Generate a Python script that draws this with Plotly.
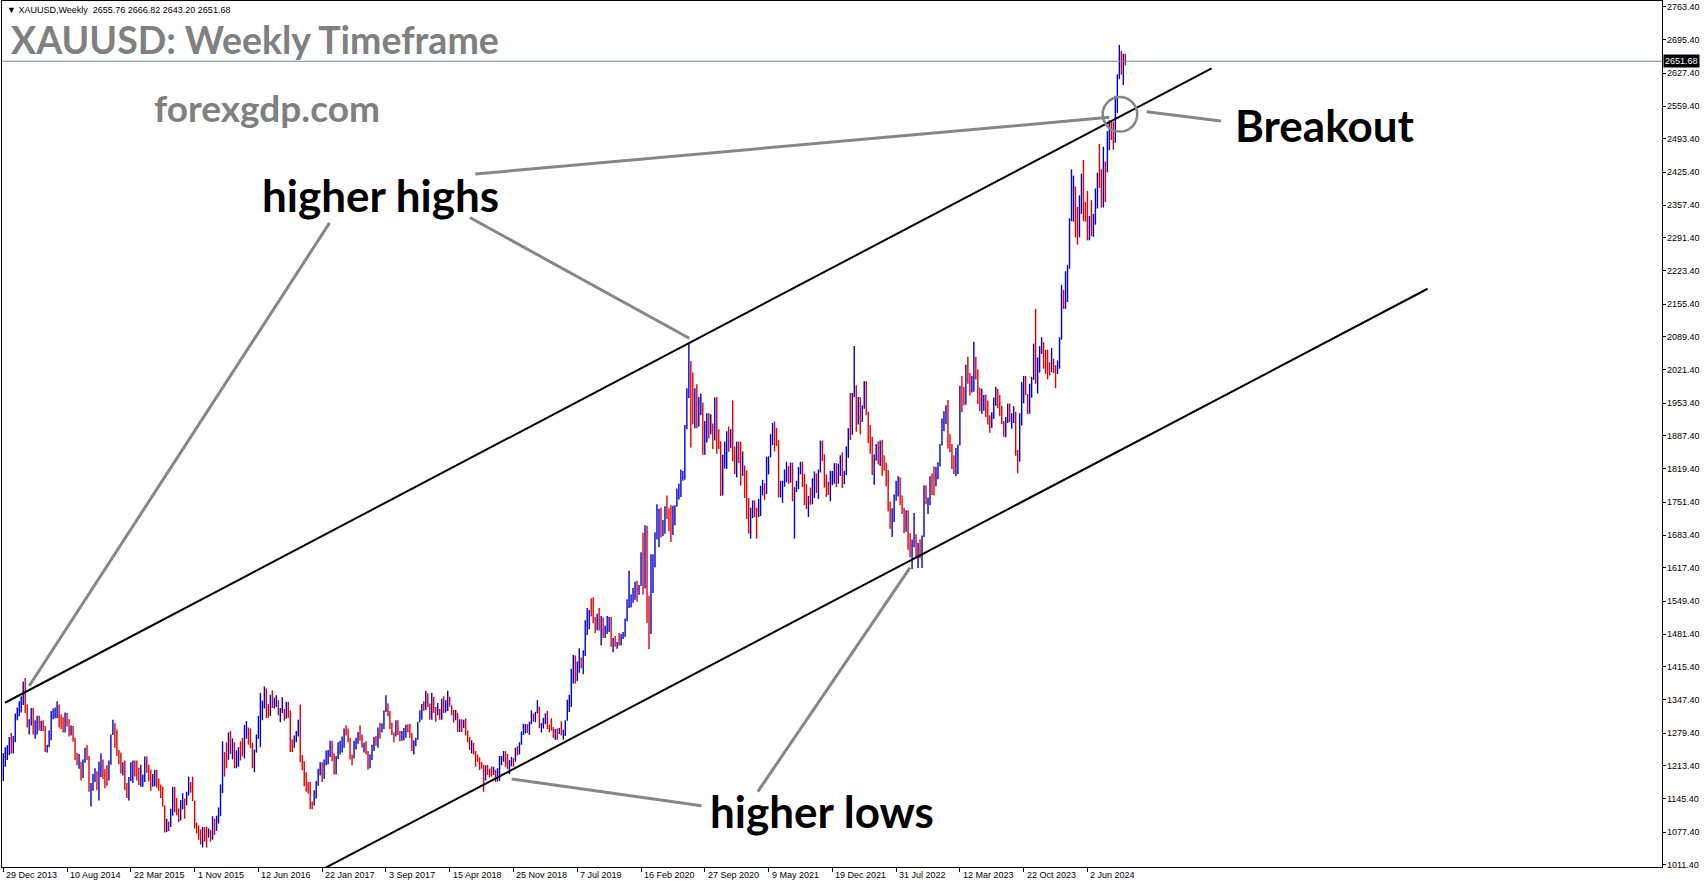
import pandas as pd
import plotly.graph_objects as go

# ---------------- DATA (weekly XAUUSD bars) ----------------
first_week = "2013-12-29"
header_ohlc = [2655.76, 2666.82, 2643.20, 2651.68]   # O H L C of the current bar
first_open = 1202.0

h14 = [1239,1251,1255,1272,1280,1274,1320,1332,1345,1355,1385,1392,1338,1308,1331,1331,1306,1315,1315,1305,1306,1294,1256,1285,1325,1330,1332,1345,1338,1318,1312,1322,1321,1308,1296,1294,1270,1239,1237,1221,1226,1250,1255,1233,1178,1196,1208,1202,1221,1238,1226,1206,1214]
l14 = [1182,1211,1225,1235,1238,1238,1261,1306,1314,1322,1337,1321,1291,1277,1295,1277,1268,1277,1285,1284,1284,1241,1240,1251,1265,1308,1310,1310,1291,1288,1281,1281,1293,1273,1275,1262,1225,1214,1207,1183,1188,1219,1225,1160,1130,1162,1180,1163,1142,1190,1186,1167,1172]
c14 = [1238,1247,1253,1264,1240,1263,1318,1324,1326,1339,1379,1335,1293,1302,1318,1293,1300,1302,1290,1293,1292,1250,1252,1275,1316,1320,1320,1337,1310,1307,1293,1310,1304,1281,1287,1266,1230,1216,1217,1192,1222,1237,1231,1170,1177,1188,1201,1175,1193,1222,1196,1195,1187]

h15 = [1224,1277,1307,1300,1287,1245,1240,1220,1224,1178,1190,1220,1224,1224,1224,1209,1215,1195,1232,1232,1215,1205,1196,1205,1205,1187,1175,1170,1132,1105,1099,1125,1170,1170,1147,1126,1143,1157,1146,1160,1191,1180,1191,1142,1097,1091,1083,1088,1088,1089,1085,1082]
l15 = [1183,1215,1276,1250,1233,1216,1197,1193,1163,1147,1142,1182,1178,1191,1183,1174,1170,1170,1180,1199,1181,1162,1170,1171,1168,1162,1147,1130,1077,1078,1080,1088,1111,1118,1112,1098,1101,1124,1105,1132,1152,1158,1141,1085,1075,1062,1052,1046,1058,1046,1066,1058]
c15 = [1216,1276,1293,1279,1234,1228,1203,1213,1165,1152,1182,1199,1219,1206,1203,1177,1178,1189,1225,1205,1189,1169,1181,1201,1174,1168,1158,1132,1085,1095,1094,1113,1160,1134,1121,1108,1139,1146,1136,1156,1177,1163,1142,1088,1081,1076,1056,1084,1075,1065,1076,1061]

h16 = [1110,1105,1111,1128,1175,1263,1241,1261,1281,1284,1269,1261,1245,1251,1263,1270,1296,1304,1291,1289,1260,1246,1277,1315,1362,1346,1375,1371,1339,1358,1367,1352,1357,1347,1331,1353,1329,1344,1344,1326,1267,1275,1284,1307,1338,1235,1222,1200,1180,1180,1140,1163]
l16 = [1062,1072,1080,1095,1110,1157,1191,1208,1225,1237,1226,1208,1208,1211,1224,1232,1228,1268,1256,1249,1208,1200,1240,1268,1251,1306,1330,1310,1311,1315,1331,1330,1333,1316,1302,1321,1305,1309,1311,1241,1241,1250,1261,1273,1220,1204,1171,1160,1156,1124,1124,1132]
c16 = [1098,1089,1097,1117,1158,1239,1230,1222,1271,1250,1255,1220,1221,1243,1235,1232,1290,1290,1272,1252,1213,1243,1275,1296,1316,1340,1366,1327,1322,1351,1335,1336,1341,1322,1327,1328,1310,1339,1316,1257,1251,1267,1276,1303,1225,1209,1183,1176,1159,1134,1133,1152]

h17 = [1182,1207,1220,1220,1226,1244,1245,1264,1264,1238,1233,1261,1264,1273,1289,1296,1289,1270,1236,1264,1270,1282,1296,1277,1260,1263,1243,1236,1256,1272,1274,1291,1301,1300,1326,1357,1340,1325,1301,1281,1306,1306,1284,1284,1290,1297,1298,1299,1280,1265,1270,1303]
l17 = [1146,1172,1193,1180,1186,1214,1216,1231,1222,1195,1195,1227,1236,1240,1250,1275,1261,1226,1214,1228,1246,1258,1264,1250,1240,1236,1205,1208,1225,1243,1254,1250,1268,1281,1288,1323,1314,1288,1276,1261,1273,1276,1263,1264,1265,1270,1281,1270,1243,1236,1253,1266]
c17 = [1173,1197,1209,1190,1220,1234,1238,1257,1234,1204,1229,1243,1249,1254,1287,1284,1268,1228,1228,1253,1267,1280,1267,1254,1256,1242,1213,1228,1254,1269,1258,1289,1284,1291,1325,1346,1320,1297,1279,1275,1304,1280,1266,1269,1275,1294,1288,1280,1248,1257,1266,1302]

h18 = [1326,1339,1345,1366,1361,1340,1362,1354,1333,1341,1329,1350,1355,1347,1366,1354,1336,1327,1327,1321,1308,1308,1307,1310,1285,1272,1265,1260,1243,1236,1230,1221,1215,1214,1215,1207,1212,1211,1205,1208,1233,1233,1243,1243,1237,1225,1231,1229,1250,1253,1261,1283,1299]
l18 = [1302,1307,1325,1327,1333,1307,1307,1321,1303,1316,1307,1307,1321,1322,1325,1334,1316,1301,1306,1282,1282,1282,1290,1275,1261,1245,1238,1236,1211,1221,1204,1207,1160,1183,1194,1189,1191,1194,1180,1181,1182,1214,1221,1211,1206,1196,1212,1211,1221,1234,1236,1256,1276]
c18 = [1322,1338,1332,1350,1333,1316,1347,1330,1322,1323,1312,1347,1325,1333,1344,1335,1323,1314,1318,1291,1302,1294,1298,1279,1270,1253,1255,1241,1231,1223,1214,1212,1184,1206,1201,1196,1193,1199,1192,1203,1222,1227,1234,1233,1209,1222,1223,1221,1248,1238,1257,1279,1285]

h19 = [1298,1298,1303,1326,1320,1323,1347,1334,1300,1311,1320,1325,1297,1310,1292,1288,1289,1290,1304,1287,1306,1348,1358,1411,1439,1438,1426,1453,1434,1449,1510,1535,1531,1555,1557,1517,1524,1535,1519,1516,1499,1519,1517,1517,1474,1478,1466,1484,1482,1486,1514,1553]
l19 = [1279,1280,1276,1298,1303,1302,1320,1290,1281,1289,1298,1288,1281,1285,1270,1266,1266,1278,1275,1266,1274,1305,1323,1333,1381,1381,1386,1403,1412,1400,1437,1480,1492,1518,1504,1484,1490,1489,1459,1474,1474,1482,1486,1456,1445,1456,1452,1458,1459,1472,1476,1508]
c19 = [1289,1282,1298,1318,1314,1322,1329,1293,1298,1302,1313,1292,1291,1290,1275,1286,1280,1285,1277,1283,1305,1341,1341,1400,1409,1400,1415,1426,1419,1440,1497,1513,1526,1520,1506,1488,1516,1497,1505,1489,1490,1505,1514,1459,1468,1462,1464,1460,1476,1479,1510,1552]

h20 = [1611,1563,1576,1589,1591,1582,1649,1689,1704,1703,1560,1645,1645,1690,1747,1738,1740,1715,1743,1765,1739,1745,1744,1745,1779,1789,1818,1815,1909,1984,2075,2039,2016,1984,1992,1966,1973,1955,1917,1933,1933,1931,1912,1965,1966,1900,1875,1848,1875,1896,1906,1900]
l20 = [1535,1536,1546,1552,1548,1562,1580,1563,1575,1505,1451,1482,1566,1618,1675,1659,1679,1682,1687,1717,1692,1670,1684,1704,1742,1757,1762,1795,1797,1900,1964,1863,1911,1902,1902,1906,1929,1848,1848,1873,1882,1890,1860,1877,1850,1860,1764,1765,1820,1819,1854,1862]
c20 = [1557,1557,1571,1589,1570,1584,1643,1585,1673,1530,1498,1617,1620,1682,1683,1727,1700,1703,1743,1734,1730,1684,1729,1743,1771,1774,1799,1810,1902,1975,2035,1944,1940,1964,1933,1940,1950,1861,1900,1930,1899,1902,1878,1951,1889,1871,1788,1839,1839,1881,1878,1895]

h21 = [1959,1865,1875,1875,1875,1855,1826,1816,1760,1740,1755,1755,1740,1758,1785,1797,1790,1844,1845,1890,1913,1916,1903,1878,1795,1795,1818,1834,1825,1832,1832,1782,1795,1823,1834,1834,1809,1788,1764,1781,1800,1814,1810,1818,1877,1877,1849,1808,1793,1815,1815,1831]
l21 = [1835,1809,1802,1831,1785,1805,1760,1717,1687,1677,1719,1721,1677,1721,1723,1765,1756,1768,1808,1843,1868,1855,1866,1761,1761,1750,1783,1792,1789,1791,1753,1677,1772,1778,1808,1782,1745,1737,1721,1746,1747,1760,1770,1758,1812,1835,1781,1762,1766,1753,1786,1789]
c21 = [1850,1828,1856,1848,1814,1824,1784,1734,1700,1719,1745,1732,1728,1744,1777,1777,1769,1831,1844,1881,1905,1891,1877,1764,1781,1784,1808,1812,1802,1814,1763,1780,1781,1817,1827,1788,1754,1750,1761,1757,1768,1793,1783,1818,1865,1846,1788,1783,1783,1798,1811,1829]

h22 = [1831,1830,1847,1853,1815,1865,1902,1974,1974,2070,1990,1966,1966,1949,1998,1998,1936,1909,1885,1849,1870,1875,1877,1879,1847,1832,1817,1752,1739,1767,1795,1804,1802,1765,1740,1735,1735,1688,1675,1729,1686,1668,1675,1683,1786,1786,1761,1804,1810,1824,1823,1833]
l22 = [1782,1789,1805,1780,1788,1807,1842,1878,1889,1966,1895,1910,1890,1915,1942,1929,1872,1850,1807,1787,1836,1828,1825,1805,1816,1784,1732,1697,1680,1711,1754,1763,1745,1727,1688,1691,1654,1639,1615,1659,1640,1617,1637,1617,1680,1747,1727,1745,1766,1765,1784,1798]
c22 = [1797,1817,1835,1791,1808,1859,1898,1889,1966,1988,1921,1958,1925,1945,1974,1931,1897,1883,1811,1846,1853,1851,1871,1840,1827,1811,1742,1708,1727,1766,1775,1802,1747,1738,1712,1717,1675,1644,1661,1695,1644,1657,1645,1681,1771,1751,1754,1798,1797,1793,1798,1824]

h23 = [1870,1922,1937,1949,1960,1890,1870,1847,1862,1869,1989,2009,1987,2032,2048,2015,2009,2079,2048,2022,1985,1983,1970,1971,1959,1929,1935,1965,1987,1983,1970,1948,1917,1925,1953,1953,1933,1947,1936,1858,1933,1997,2009,2009,1972,1993,2007,2075,2146,2047,2070,2088,2078]
l23 = [1824,1867,1896,1911,1861,1853,1819,1809,1804,1809,1867,1935,1949,1950,1993,1969,1975,1977,2002,1952,1937,1932,1938,1925,1910,1893,1903,1921,1948,1943,1928,1911,1885,1884,1913,1915,1901,1913,1846,1810,1834,1908,1953,1970,1931,1932,1965,2001,1993,1973,2016,2054,2024]
c23 = [1865,1920,1926,1928,1865,1865,1842,1811,1856,1868,1988,1978,1969,2008,2004,1983,1990,2017,2010,1977,1946,1948,1960,1958,1920,1919,1925,1955,1961,1959,1943,1914,1889,1914,1940,1919,1924,1925,1848,1832,1932,1981,2006,1992,1940,1981,2002,2072,2004,2019,2053,2063,2049]

h24 = [2062,2063,2037,2066,2044,2031,2041,2088,2195,2185,2223,2236,2331,2431,2418,2396,2354,2378,2422,2450,2364,2387,2336,2368,2340,2392,2424,2483,2431,2477,2447,2509,2531,2529,2528,2581,2625,2685,2673,2667,2666.82]
l24 = [2013,2002,2010,2017,2015,1984,2013,2024,2083,2146,2146,2160,2228,2325,2324,2292,2277,2292,2340,2325,2324,2286,2286,2295,2293,2318,2351,2393,2353,2353,2364,2425,2470,2491,2471,2485,2546,2615,2624,2603,2643.20]
c24 = [2049,2029,2018,2039,2024,2013,2035,2083,2179,2156,2165,2230,2330,2344,2392,2337,2301,2360,2415,2334,2327,2293,2333,2322,2326,2391,2411,2400,2387,2442,2431,2507,2512,2503,2497,2578,2622,2658,2653,2657,2651.68]

# x-axis labels (MT4 date marks) and price-axis labels
tick_labels = ["29 Dec 2013", "10 Aug 2014", "22 Mar 2015", "1 Nov 2015", "12 Jun 2016",
               "22 Jan 2017", "3 Sep 2017", "15 Apr 2018", "25 Nov 2018", "7 Jul 2019",
               "16 Feb 2020", "27 Sep 2020", "9 May 2021", "19 Dec 2021", "31 Jul 2022",
               "12 Mar 2023", "22 Oct 2023", "2 Jun 2024"]
price_ticks = [2763.40, 2695.40, 2627.40, 2559.40, 2493.40, 2425.40, 2357.40, 2291.40,
               2223.40, 2155.40, 2089.40, 2021.40, 1953.40, 1887.40, 1819.40, 1751.40,
               1683.40, 1617.40, 1549.40, 1481.40, 1415.40, 1347.40, 1279.40, 1213.40,
               1145.40, 1077.40, 1011.40]

# trend channel anchors (bar index, price)
upper_channel_w = [0.85, 606.3]
upper_channel_p = [1341.7, 2637.2]
lower_channel_w = [160.0, 714.7]
lower_channel_p = [1001.2, 2187.1]

# ---------------- BUILD ----------------
highs = h14 + h15 + h16 + h17 + h18 + h19 + h20 + h21 + h22 + h23 + h24
lows = l14 + l15 + l16 + l17 + l18 + l19 + l20 + l21 + l22 + l23 + l24
closes = c14 + c15 + c16 + c17 + c18 + c19 + c20 + c21 + c22 + c23 + c24
N = len(closes)
# weekly open = previous week's close; last bar's open from the header
opens = [first_open] + closes[:-1]
opens[-1] = header_ohlc[0]

week0 = pd.Timestamp(first_week)
idx = list(range(N))
tick_idx = [(pd.to_datetime(s, format="%d %b %Y") - week0).days // 7 for s in tick_labels]

BLUE = "#0000d0"
RED = "#e60000"
GRAY = "#878787"

fig = go.Figure()
fig.add_trace(go.Ohlc(
    x=idx, open=opens, high=highs, low=lows, close=closes,
    increasing=dict(line=dict(color=BLUE, width=1.4)),
    decreasing=dict(line=dict(color=RED, width=1.4)),
    tickwidth=0, showlegend=False, hoverinfo="skip"))

for w, p in [(upper_channel_w, upper_channel_p), (lower_channel_w, lower_channel_p)]:
    fig.add_trace(go.Scatter(x=w, y=p, mode="lines", line=dict(color="black", width=2),
                             showlegend=False, hoverinfo="skip"))

# plot area in page pixels
PL, PR, PT, PB = 2, 1662, 1, 867
def px(x):
    return (x - PL) / (PR - PL)
def py(y):
    return (PB - y) / (PB - PT)

shapes = []
# pointer lines (bar index, price)
pointers = [
    ((163.7, 2321.5), (13.0, 1375.9)),
    ((234.1, 2332.6), (344.2, 2085.9)),
    ((236.8, 2421.4), (555.0, 2537.2)),
    ((350.3, 1131.2), (255.1, 1186.0)),
    ((378.6, 1160.2), (455.0, 1617.6)),
    ((611.0, 2529.6), (573.7, 2548.6)),
]
for (x0, y0), (x1, y1) in pointers:
    shapes.append(dict(type="line", xref="x", yref="y", x0=x0, y0=y0, x1=x1, y1=y1,
                       line=dict(color=GRAY, width=3), layer="above"))
shapes.append(dict(type="circle", xref="x", yref="y", xsizemode="pixel", ysizemode="pixel",
                   xanchor=560.3, yanchor=2543.3, x0=-17.3, x1=17.3, y0=-17.3, y1=17.3,
                   line=dict(color=GRAY, width=2.5), layer="above"))
# bid line
shapes.append(dict(type="line", xref="paper", yref="y", x0=0, x1=1,
                   y0=header_ohlc[3], y1=header_ohlc[3],
                   line=dict(color="#76879a", width=1), layer="above"))

ann = []
FONT_FAM = "Liberation Sans, Arial, sans-serif"
axis_font = dict(family=FONT_FAM, size=9, color="black")
for t, i in zip(tick_labels, tick_idx):
    ann.append(dict(x=i, xref="x", y=0, yref="paper", text=t, showarrow=False,
                    xanchor="left", yanchor="top", xshift=1, yshift=-1, font=axis_font))
for v in price_ticks:
    ann.append(dict(x=1, xref="paper", y=v, yref="y", text=f"{v:.2f}", showarrow=False,
                    xanchor="left", yanchor="middle", xshift=3, font=axis_font))
ann.append(dict(x=1, xref="paper", y=header_ohlc[3], yref="y", text=f"{header_ohlc[3]:.2f}",
                showarrow=False, xanchor="left", yanchor="middle", xshift=1,
                bgcolor="black", borderpad=1, font=dict(family=FONT_FAM, size=9, color="white")))
o, h, l, c = header_ohlc
ann.append(dict(x=px(5), y=py(10), xref="paper", yref="paper",
                text=f"▼ XAUUSD,Weekly  {o:.2f} {h:.2f} {l:.2f} {c:.2f}",
                showarrow=False, xanchor="left", yanchor="middle", font=axis_font))
big = dict(family="Lato, sans-serif", weight="bold")
ann.append(dict(x=px(9), y=py(40), xref="paper", yref="paper", text="XAUUSD: Weekly Timeframe",
                showarrow=False, xanchor="left", yanchor="middle",
                font=dict(**big, size=37.5, color="#808080")))
ann.append(dict(x=px(152), y=py(108), xref="paper", yref="paper", text="forexgdp.com",
                showarrow=False, xanchor="left", yanchor="middle",
                font=dict(**big, size=37, color="#808080")))
for txt, x, y in [("higher highs", 260, 195), ("Breakout", 1233, 125), ("higher lows", 708, 811)]:
    ann.append(dict(x=px(x), y=py(y), xref="paper", yref="paper", text=txt, showarrow=False,
                    xanchor="left", yanchor="middle", font=dict(**big, size=44, color="black")))

fig.update_layout(
    width=1705, height=888,
    margin=dict(l=PL, r=1705 - PR, t=PT, b=888 - PB, autoexpand=False),
    paper_bgcolor="white", plot_bgcolor="white",
    shapes=shapes, annotations=ann, showlegend=False,
    xaxis=dict(range=[-0.65, 832.3], rangeslider=dict(visible=False), showgrid=False,
               zeroline=False, showline=True, linecolor="black", linewidth=1, mirror=True,
               ticks="outside", ticklen=4, tickcolor="black", tickvals=tick_idx,
               showticklabels=False, fixedrange=True),
    yaxis=dict(range=[1006.3, 2774.7], side="right", showgrid=False, zeroline=False,
               showline=True, linecolor="black", linewidth=1, mirror=True,
               ticks="outside", ticklen=3, tickcolor="black", tickvals=price_ticks,
               showticklabels=False, fixedrange=True),
)

fig.write_html("out.html", config={"displayModeBar": False},
               post_script="document.body.style.margin='0px';document.body.style.padding='0px';"
                           "document.body.style.overflow='hidden';")
